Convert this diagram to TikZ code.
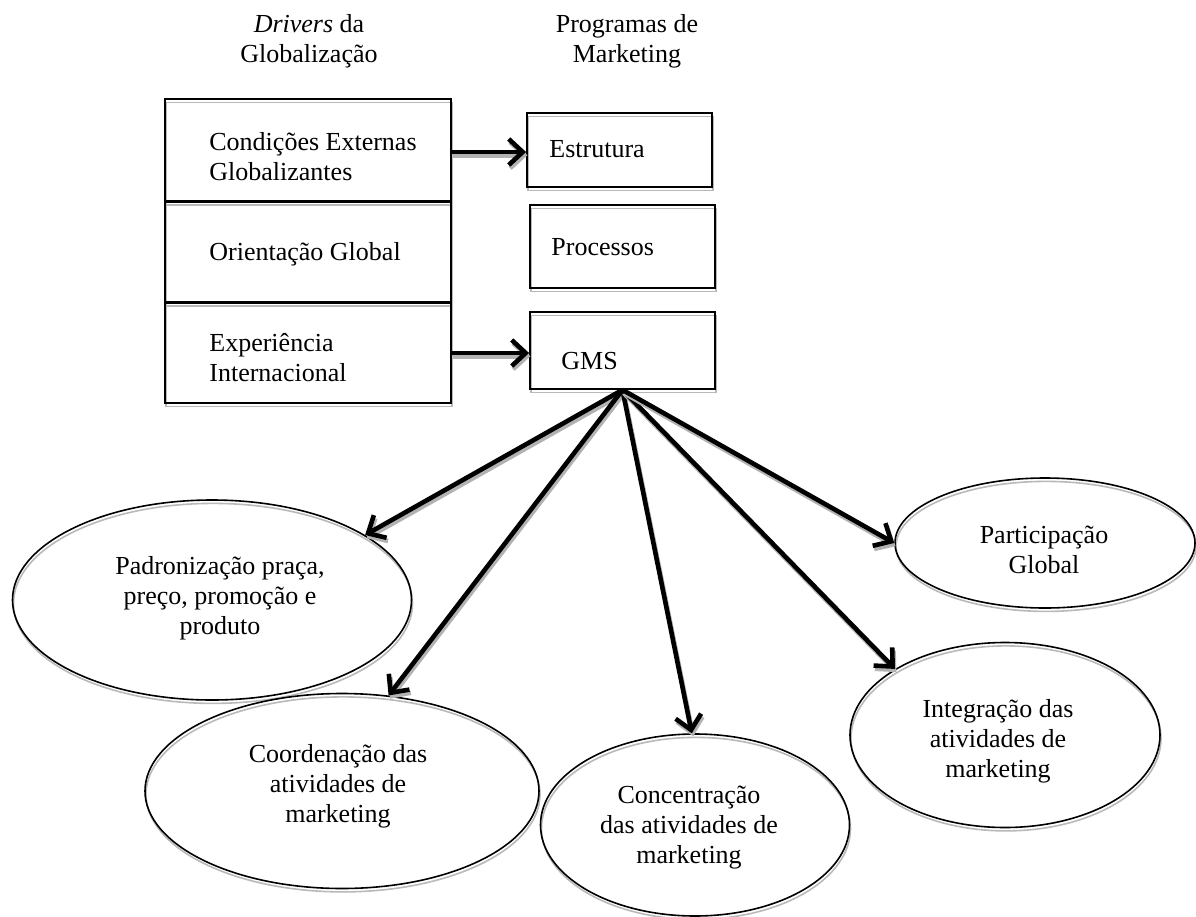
\documentclass[tikz,border=0pt]{standalone}
\usepackage{fontspec}
\setmainfont{Liberation Serif}
\usetikzlibrary{shapes.geometric,arrows.meta}
\begin{document}
\begin{tikzpicture}[x=0.5pt,y=-0.5pt,
  shadowed/.style={preaction={draw=gray!55,line width=0.8pt,transform canvas={shift={(0.5pt,-1.7pt)}}}},
  box/.style={rectangle,draw,line width=0.9pt,shadowed,inner sep=0pt},
  oval/.style={ellipse,draw,line width=0.8pt,shadowed,inner sep=0pt},
  txt/.style={font=\fontsize{13}{15}\selectfont,inner sep=0pt},
  arr/.style={line width=2.3pt,-{Straight Barb[length=7pt,width=13pt]},
    preaction={draw=gray!60,line width=2.3pt,transform canvas={shift={(0.7pt,-1.6pt)}}}}]
\useasboundingbox (0,0) rectangle (1196,917);

% headers
\node[txt,align=center] (h1) at (309,41.5) {\textit{Drivers} da\\Globalização};
\node[txt,align=center] (h2) at (627,41.5) {Programas de\\Marketing};

% left stacked boxes
\node[box,minimum width=143pt,minimum height=51pt] (c1) at (308,150) {};
\node[box,minimum width=143pt,minimum height=50pt] (c2) at (308,252) {};
\node[box,minimum width=143pt,minimum height=50pt] (c3) at (308,353) {};
\node[txt,align=left,anchor=west] (t1) at (209,156.5) {Condições Externas\\Globalizantes};
\node[txt,anchor=west] (t2) at (209,254) {Orientação Global};
\node[txt,align=left,anchor=west] (t3) at (209,358) {Experiência\\Internacional};

% right boxes
\node[box,minimum width=92.5pt,minimum height=37pt] (est) at (619.5,150) {};
\node[box,minimum width=92.5pt,minimum height=41.5pt] (proc) at (622.5,246.5) {};
\node[box,minimum width=92.5pt,minimum height=38.5pt] (gms) at (622.5,350.5) {};
\node[txt,anchor=west] (t4) at (549,149) {Estrutura};
\node[txt,anchor=west] (t5) at (551,247) {Processos};
\node[txt,anchor=west] (t6) at (561,361) {GMS};

% ellipses
\node[oval,minimum width=199.5pt,minimum height=100pt] (padr) at (212,600) {};
\node[oval,minimum width=197pt,minimum height=97.5pt] (coord) at (342,791) {};
\node[oval,minimum width=154.5pt,minimum height=91pt] (conc) at (695,825) {};
\node[oval,minimum width=155pt,minimum height=92.5pt] (integ) at (1005,735) {};
\node[oval,minimum width=150pt,minimum height=65pt] (part) at (1045,543) {};

\node[txt,align=center] (e1) at (220,598) {Padronização praça,\\preço, promoção e\\produto};
\node[txt,align=center] (e2) at (338,786) {Coordenação das\\atividades de\\marketing};
\node[txt,align=center] (e3) at (689,828) {Concentração\\das atividades de\\marketing};
\node[txt,align=center] (e4) at (998,741) {Integração das\\atividades de\\marketing};
\node[txt,align=center] (e5) at (1044,550) {Participação\\Global};

% connectors
\draw[arr] ([yshift=-1pt]c1.east) -- ([yshift=-1pt]c1.east -| est.west);
\draw[arr] (c3.east) -- (c3.east -| gms.west);
\draw[arr] (gms.south) -- (padr.23);
\draw[arr] (gms.south) -- (coord.64);
\draw[arr] (gms.south) -- (conc.92);
\draw[arr] (gms.south) -- (integ.149);
\draw[arr] (gms.south) -- (part.180);
\end{tikzpicture}
\end{document}
